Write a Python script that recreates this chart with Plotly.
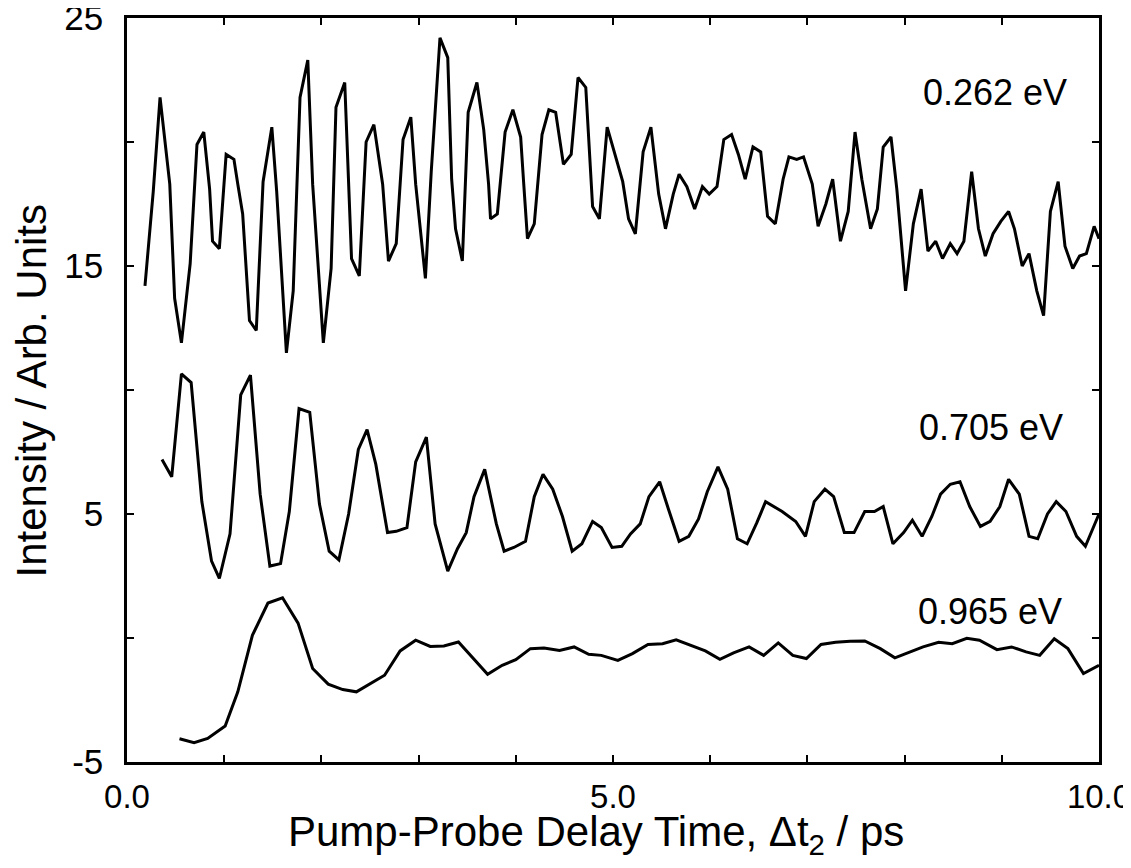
import plotly.graph_objects as go

# 0.262 eV trace
t_262 = [0.185, 0.27, 0.34, 0.44, 0.49, 0.56, 0.65, 0.72, 0.79, 0.85, 0.88, 0.95,
         1.02, 1.10, 1.14, 1.19, 1.26, 1.33, 1.40, 1.49, 1.54, 1.64, 1.71, 1.78,
         1.86, 1.91, 2.02, 2.10, 2.15, 2.24, 2.31, 2.39, 2.46, 2.54, 2.63, 2.69,
         2.77, 2.84, 2.92, 2.97, 3.07, 3.13, 3.22, 3.30, 3.34, 3.38, 3.45, 3.51,
         3.60, 3.67, 3.72, 3.74, 3.81, 3.89, 3.97, 4.05, 4.08, 4.12, 4.19, 4.27,
         4.34, 4.41, 4.49, 4.57, 4.64, 4.72, 4.79, 4.86, 4.94, 5.10, 5.16, 5.23,
         5.31, 5.39, 5.47, 5.54, 5.62, 5.68, 5.76, 5.84, 5.92, 5.99, 6.07, 6.14,
         6.22, 6.29, 6.36, 6.44, 6.52, 6.59, 6.67, 6.75, 6.81, 6.89, 6.96, 7.05,
         7.11, 7.19, 7.26, 7.34, 7.42, 7.49, 7.56, 7.65, 7.72, 7.78, 7.86, 7.92,
         8.01, 8.09, 8.17, 8.24, 8.32, 8.39, 8.47, 8.54, 8.61, 8.69, 8.76, 8.83,
         8.91, 8.99, 9.07, 9.13, 9.21, 9.28, 9.36, 9.43, 9.50, 9.58, 9.65, 9.73,
         9.80, 9.87, 9.95, 10.0]
i_262 = [14.2, 18.0, 21.8, 18.3, 13.7, 11.9, 15.1, 19.9, 20.4, 18.1, 16.0, 15.7,
         19.5, 19.3, 18.3, 17.1, 12.8, 12.4, 18.4, 20.6, 18.0, 11.5, 14.0, 21.8,
         23.3, 18.3, 11.9, 14.9, 21.4, 22.4, 15.3, 14.6, 20.0, 20.7, 18.3, 15.2,
         15.9, 20.1, 21.0, 18.3, 14.5, 18.8, 24.2, 23.4, 18.5, 16.5, 15.2, 21.2,
         22.4, 20.5, 18.3, 16.9, 17.1, 20.4, 21.3, 20.2, 18.4, 16.1, 16.7, 20.3,
         21.3, 21.2, 19.1, 19.5, 22.6, 22.2, 17.4, 16.9, 20.6, 18.4, 16.9, 16.3,
         19.6, 20.6, 17.9, 16.5, 17.9, 18.7, 18.2, 17.3, 18.2, 17.9, 18.2, 20.1,
         20.3, 19.5, 18.5, 19.8, 19.6, 17.0, 16.7, 18.5, 19.4, 19.3, 19.4, 18.3,
         16.6, 17.5, 18.5, 16.0, 17.2, 20.4, 18.5, 16.5, 17.3, 19.8, 20.2, 18.1,
         14.0, 16.7, 18.1, 15.6, 16.0, 15.3, 15.9, 15.5, 16.0, 18.8, 16.5, 15.4,
         16.3, 16.8, 17.2, 16.5, 15.0, 15.5, 14.0, 13.0, 17.2, 18.4, 15.8, 14.9,
         15.4, 15.5, 16.6, 16.1]

# 0.705 eV trace
t_705 = [0.36, 0.46, 0.56, 0.66, 0.77, 0.87, 0.95, 1.06, 1.17, 1.27, 1.37, 1.47,
         1.58, 1.67, 1.77, 1.88, 1.98, 2.08, 2.18, 2.28, 2.38, 2.47, 2.56, 2.68,
         2.77, 2.88, 2.97, 3.08, 3.17, 3.30, 3.40, 3.49, 3.57, 3.68, 3.80, 3.88,
         3.98, 4.10, 4.19, 4.28, 4.38, 4.48, 4.58, 4.68, 4.79, 4.88, 4.99, 5.09,
         5.18, 5.28, 5.37, 5.48, 5.57, 5.68, 5.78, 5.88, 5.97, 6.08, 6.18, 6.28,
         6.38, 6.48, 6.57, 6.65, 6.74, 6.88, 6.98, 7.07, 7.18, 7.27, 7.38, 7.48,
         7.59, 7.69, 7.78, 7.88, 7.99, 8.08, 8.18, 8.28, 8.37, 8.47, 8.57, 8.67,
         8.78, 8.88, 8.98, 9.07, 9.18, 9.28, 9.37, 9.47, 9.56, 9.66, 9.77, 9.86,
         9.97, 10.0]
i_705 = [7.2, 6.5, 10.65, 10.3, 5.5, 3.1, 2.4, 4.2, 9.8, 10.6, 5.8, 2.9,
         3.0, 5.1, 9.25, 9.1, 5.4, 3.5, 3.15, 5.0, 7.6, 8.4, 7.0, 4.25,
         4.3, 4.45, 7.1, 8.1, 4.6, 2.7, 3.6, 4.25, 5.7, 6.8, 4.6, 3.5,
         3.65, 3.9, 5.7, 6.6, 6.0, 4.9, 3.5, 3.8, 4.7, 4.45, 3.65, 3.7,
         4.2, 4.6, 5.7, 6.3, 5.2, 3.9, 4.1, 4.8, 5.9, 6.9, 6.0, 4.0,
         3.8, 4.65, 5.5, 5.3, 5.1, 4.7, 4.1, 5.5, 6.0, 5.7, 4.25, 4.25,
         5.1, 5.1, 5.3, 3.8, 4.25, 4.75, 4.1, 4.9, 5.8, 6.2, 6.3, 5.3,
         4.5, 4.7, 5.3, 6.4, 5.8, 4.1, 4.0, 5.0, 5.5, 5.1, 4.1, 3.7,
         4.7, 5.0]

# 0.965 eV trace
t_965 = [0.54, 0.69, 0.83, 1.01, 1.14, 1.29, 1.45, 1.60, 1.76, 1.91, 2.07, 2.22,
         2.36, 2.51, 2.65, 2.81, 2.97, 3.12, 3.26, 3.41, 3.56, 3.71, 3.86, 4.00,
         4.15, 4.29, 4.45, 4.60, 4.75, 4.88, 5.05, 5.20, 5.36, 5.51, 5.65, 5.80,
         5.95, 6.10, 6.24, 6.40, 6.55, 6.70, 6.85, 6.99, 7.14, 7.29, 7.44, 7.59,
         7.75, 7.90, 8.04, 8.19, 8.35, 8.49, 8.64, 8.77, 8.95, 9.10, 9.25, 9.39,
         9.54, 9.68, 9.84, 10.0]
i_965 = [-4.06, -4.22, -4.05, -3.55, -2.17, 0.11, 1.41, 1.62, 0.60, -1.23, -1.86, -2.08,
         -2.17, -1.81, -1.50, -0.52, -0.09, -0.34, -0.32, -0.16, -0.80, -1.46, -1.10, -0.87,
         -0.43, -0.40, -0.50, -0.36, -0.66, -0.70, -0.90, -0.63, -0.26, -0.23, -0.07, -0.30,
         -0.52, -0.86, -0.60, -0.36, -0.70, -0.20, -0.70, -0.83, -0.26, -0.17, -0.13, -0.12,
         -0.43, -0.80, -0.60, -0.36, -0.17, -0.23, -0.01, -0.09, -0.47, -0.36, -0.56, -0.70,
         -0.03, -0.43, -1.43, -1.10]

labels = ["0.262 eV", "0.705 eV", "0.965 eV"]
label_x = [8.93, 8.89, 8.88]
label_y = [22.0, 8.5, 1.05]

x_ticks = [0, 5, 10]
x_ticklabels = ["0.0", "5.0", "10.0"]
y_ticks = [-5, 5, 15, 25]
y_ticklabels = ["-5", "5", "15", "25"]

x_title = 'Pump-Probe Delay Time, \u0394t<sub>2</sub> / ps'
y_title = 'Intensity / Arb. Units'

FONT = "Liberation Sans, Arial, Helvetica, sans-serif"

fig = go.Figure()
for t, y in [(t_262, i_262), (t_705, i_705), (t_965, i_965)]:
    fig.add_trace(go.Scatter(
        x=t, y=y, mode='lines',
        line=dict(color='black', width=3),
        showlegend=False
    ))

for txt, lx, ly in zip(labels, label_x, label_y):
    fig.add_annotation(
        x=lx, y=ly, text=txt, showarrow=False,
        font=dict(family=FONT, size=36, color='black')
    )

# axis titles placed as paper annotations for exact positioning
fig.add_annotation(
    xref='paper', yref='paper', x=0.482, y=-0.097,
    xanchor='center', yanchor='middle', text=x_title, showarrow=False,
    font=dict(family=FONT, size=42, color='black')
)
fig.add_annotation(
    xref='paper', yref='paper', x=-0.098, y=0.499,
    xanchor='center', yanchor='middle', text=y_title, showarrow=False,
    textangle=-90, font=dict(family=FONT, size=42, color='black')
)

axis_common = dict(
    showgrid=False, zeroline=False, automargin=False,
    showline=True, linecolor='black', linewidth=2.5,
    mirror='ticks', ticks='inside', ticklen=7, tickwidth=2,
    tickcolor='black', ticklabeloverflow='allow',
)
minor_ticks = dict(ticks='inside', ticklen=7, tickwidth=2, tickcolor='black')

fig.update_xaxes(
    range=[0, 10],
    tickvals=x_ticks, ticktext=x_ticklabels,
    tickfont=dict(family=FONT, size=33, color='black'),
    minor=dict(dtick=1, **minor_ticks),
    ticklabelstandoff=4,
    **axis_common
)
fig.update_yaxes(
    range=[-5, 25],
    tickvals=y_ticks, ticktext=y_ticklabels,
    tickfont=dict(family=FONT, size=35, color='black'),
    minor=dict(tickvals=[0, 10, 20], **minor_ticks),
    ticklabelstandoff=14,
    **axis_common
)

# the page body adds an 8px offset, so margins are trimmed to land the frame
# at the reference pixel position
fig.update_layout(
    width=1131, height=868,
    margin=dict(l=119, r=40, t=10, b=114),
    plot_bgcolor='white', paper_bgcolor='white',
)

fig.write_html("out.html")
